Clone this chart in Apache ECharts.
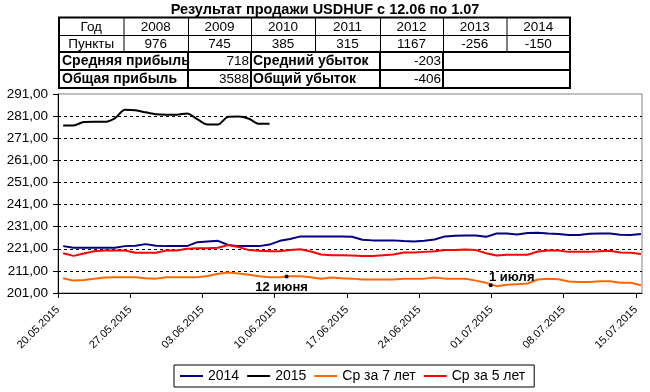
<!DOCTYPE html>
<html><head><meta charset="utf-8">
<script src="https://cdn.jsdelivr.net/npm/echarts@6/dist/echarts.min.js"></script>
<style>html,body{margin:0;padding:0;background:#fff}#c{width:650px;height:392px}</style>
</head><body><div id="c"></div>
<script>
const titleText = 'Результат продажи USDHUF с 12.06 по 1.07';
const dates = [
 '20.05.2015','21.05.2015','22.05.2015','23.05.2015','24.05.2015','25.05.2015','26.05.2015','27.05.2015','28.05.2015','29.05.2015','30.05.2015','31.05.2015',
 '01.06.2015','02.06.2015','03.06.2015','04.06.2015','05.06.2015','06.06.2015','07.06.2015','08.06.2015','09.06.2015','10.06.2015',
 '11.06.2015','12.06.2015','13.06.2015','14.06.2015','15.06.2015','16.06.2015','17.06.2015','18.06.2015','19.06.2015','20.06.2015',
 '21.06.2015','22.06.2015','23.06.2015','24.06.2015','25.06.2015','26.06.2015','27.06.2015','28.06.2015','29.06.2015','30.06.2015',
 '01.07.2015','02.07.2015','03.07.2015','04.07.2015','05.07.2015','06.07.2015','07.07.2015','08.07.2015','09.07.2015','10.07.2015',
 '11.07.2015','12.07.2015','13.07.2015','14.07.2015','15.07.2015'
];
const seriesNames = ['2014', '2015', 'Ср за 7 лет', 'Ср за 5 лет'];
const s2014 = [222.2,221.5,221.5,221.5,221.5,221.5,222.2,222.4,223.1,222.4,222.2,222.2,222.2,224.0,224.3,224.6,222.7,222.2,222.2,222.2,
 222.9,224.6,225.4,226.6,226.6,226.6,226.6,226.6,226.4,225.1,224.8,224.8,224.8,224.5,224.3,224.6,225.2,226.6,226.9,227.0,
 227.0,226.4,227.9,227.9,227.5,228.1,228.3,227.9,227.7,227.2,227.2,227.8,227.9,227.9,227.3,227.2,227.7];
const s2015 = [276.75,276.75,278.3,278.4,278.4,280.0,283.9,283.6,282.7,281.8,281.6,281.6,282.2,279.6,277.2,277.2,280.7,280.8,279.8,277.5,277.5];
const avg7 = [207.7,206.6,206.9,207.4,208.0,208.1,208.1,208.1,207.7,207.5,208.1,208.1,208.1,208.1,208.7,209.7,210.3,209.8,209.3,208.6,
 208.1,208.1,208.6,208.6,208.1,207.4,208.0,207.7,207.5,207.1,207.1,207.1,207.1,207.4,207.5,207.5,208.0,207.5,207.4,207.4,
 206.6,205.6,204.1,204.7,205.0,205.3,207.1,207.4,207.2,206.2,206.0,206.0,206.3,206.3,205.6,205.6,204.5];
const avg5 = [219.0,217.8,218.9,219.9,220.2,220.2,220.2,219.2,219.2,219.2,220.2,220.2,221.0,221.2,221.2,221.5,222.7,221.8,220.4,220.1,
 219.9,219.9,220.4,220.8,219.8,218.4,218.1,218.1,218.0,217.7,217.7,218.1,218.4,219.3,219.3,219.6,219.9,220.4,220.4,220.7,
 220.4,219.0,218.0,218.3,218.3,218.3,219.8,220.2,220.2,219.6,219.6,219.6,219.9,220.1,219.3,219.2,218.6];
const notes = [{name: '12 июня', day: 22.15, value: 208.45}, {name: '1 июля', day: 41.94, value: 204.5}];

const tableHead = ['Год', 'Пункты'];
const tableYears = ['2008','2009','2010','2011','2012','2013','2014'];
const tablePoints = [976, 745, 385, 315, 1167, -256, -150];
const profitLabels = ['Средняя прибыль', 'Общая прибыль'];
const profitValues = [718, 3588];
const lossLabels = ['Средний убыток', 'Общий убыток'];
const lossValues = [-203, -406];

const FF = "'Liberation Sans', Arial, sans-serif";
const colors = ['#000080', '#000000', '#FF6600', '#FF0000'];
const seriesData = [s2014, s2015, avg7, avg5];
const cellSize = 13.5;

// table layout
const TX = [59, 123.5, 188, 251, 315, 380, 443, 506.5, 570];
const TY = [17.5, 35, 52, 70, 88];
const g = [];
function line(x1, y1, x2, y2, w) { g.push({type: 'line', shape: {x1, y1, x2, y2}, style: {stroke: '#000', lineWidth: w}, z: 10}); }
function txt(text, x, y, align, bold, size) {
  g.push({type: 'text', x, y, z: 11, style: {text: String(text), fill: '#000', align, verticalAlign: 'middle',
    fontFamily: FF, fontSize: size, fontWeight: bold ? 'bold' : 'normal'}});
}
line(TX[0], 35.5, TX[8], 35.5, 1);
for (let i = 1; i < 8; i++) line(TX[i] + 0.5, TY[0], TX[i] + 0.5, TY[2], 1);
line(TX[0], TY[2], TX[8], TY[2], 2);
line(TX[0], TY[3], TX[8], TY[3], 2);
[TX[2], TX[3], TX[5], TX[6]].forEach(x => line(x, TY[2], x, TY[4], 2));
g.push({type: 'rect', shape: {x: TX[0], y: TY[0], width: TX[8] - TX[0], height: TY[4] - TY[0]}, style: {fill: 'none', stroke: '#000', lineWidth: 2}, z: 10});
const rowC = [26.8, 44, 61.4, 79.4];
txt(tableHead[0], (TX[0] + TX[1]) / 2, rowC[0], 'center', false, cellSize);
txt(tableHead[1], (TX[0] + TX[1]) / 2, rowC[1], 'center', false, cellSize);
tableYears.forEach((y, i) => {
  txt(y, (TX[i + 1] + TX[i + 2]) / 2, rowC[0], 'center', false, cellSize);
  txt(tablePoints[i], (TX[i + 1] + TX[i + 2]) / 2, rowC[1], 'center', false, cellSize);
});
for (let r = 0; r < 2; r++) {
  txt(profitLabels[r], TX[0] + 3, rowC[2 + r], 'left', true, 14);
  txt(profitValues[r], TX[3] - 2, rowC[2 + r], 'right', false, cellSize);
  txt(lossLabels[r], TX[3] + 2, rowC[2 + r], 'left', true, 14);
  txt(lossValues[r], TX[6] - 2, rowC[2 + r], 'right', false, cellSize);
}

const chart = echarts.init(document.getElementById('c'), null, {renderer: 'canvas'});
chart.setOption({
  animation: false,
  backgroundColor: '#fff',
  textStyle: {fontFamily: FF},
  title: {text: titleText, left: 'center', top: 1, padding: [1, 0, 0, 0],
    textStyle: {fontFamily: FF, fontSize: 14.5, fontWeight: 'bold', color: '#000'}},
  legend: {
    data: seriesNames, left: 174, top: 365, padding: [4, 9, 4, 6], itemGap: 8, itemWidth: 23, itemHeight: 2,
    icon: 'rect', borderColor: '#000', borderWidth: 1, textStyle: {fontFamily: FF, fontSize: 14, color: '#000'}
  },
  grid: {left: 58, right: 8, top: 94, bottom: 99, show: true, borderColor: '#808080', borderWidth: 1},
  xAxis: {
    type: 'value', min: 0, max: 56.6, interval: 7,
    axisLine: {show: true, lineStyle: {color: '#000', width: 1}},
    axisTick: {show: true, inside: false, length: 5, lineStyle: {color: '#000'}},
    splitLine: {show: false},
    axisLabel: {rotate: 45, fontSize: 11, color: '#000', margin: 15, fontFamily: FF, showMaxLabel: false,
      formatter: v => { const i = Math.round(v); return (Math.abs(v - i) < 1e-6 && i % 7 === 0 && dates[i]) ? dates[i] : ''; }}
  },
  yAxis: {
    type: 'value', min: 201, max: 291, interval: 10,
    axisLine: {show: true, lineStyle: {color: '#000', width: 1}},
    axisTick: {show: true, inside: false, length: 5, lineStyle: {color: '#000'}},
    axisLabel: {fontSize: 13.5, color: '#000', margin: 10, fontFamily: FF,
      formatter: v => v.toFixed(2).replace('.', ',')},
    splitLine: {show: true, showMinLine: false, showMaxLine: false, lineStyle: {color: '#000', type: [3, 3], width: 1}}
  },
  series: seriesNames.map((n, k) => ({
    name: n, type: 'line', symbol: 'none', showSymbol: false, smooth: k === 1 ? 0.3 : false,
    data: seriesData[k].map((v, i) => [i + 0.5, v]),
    lineStyle: {color: colors[k], width: 2}, itemStyle: {color: colors[k]},
    z: 3,
    markPoint: k === 2 ? {
      symbol: 'circle', symbolSize: 4, itemStyle: {color: '#000'}, animation: false,
      data: notes.map((nt, j) => ({name: nt.name, coord: [nt.day, nt.value],
        label: {show: true, formatter: '{b}', position: 'inside', offset: j === 0 ? [-5, 10.5] : [21, -7.5],
          color: '#000', fontWeight: 'bold', fontSize: 13, fontFamily: FF}}))
    } : undefined
  })),
  graphic: g
});
</script></body></html>
